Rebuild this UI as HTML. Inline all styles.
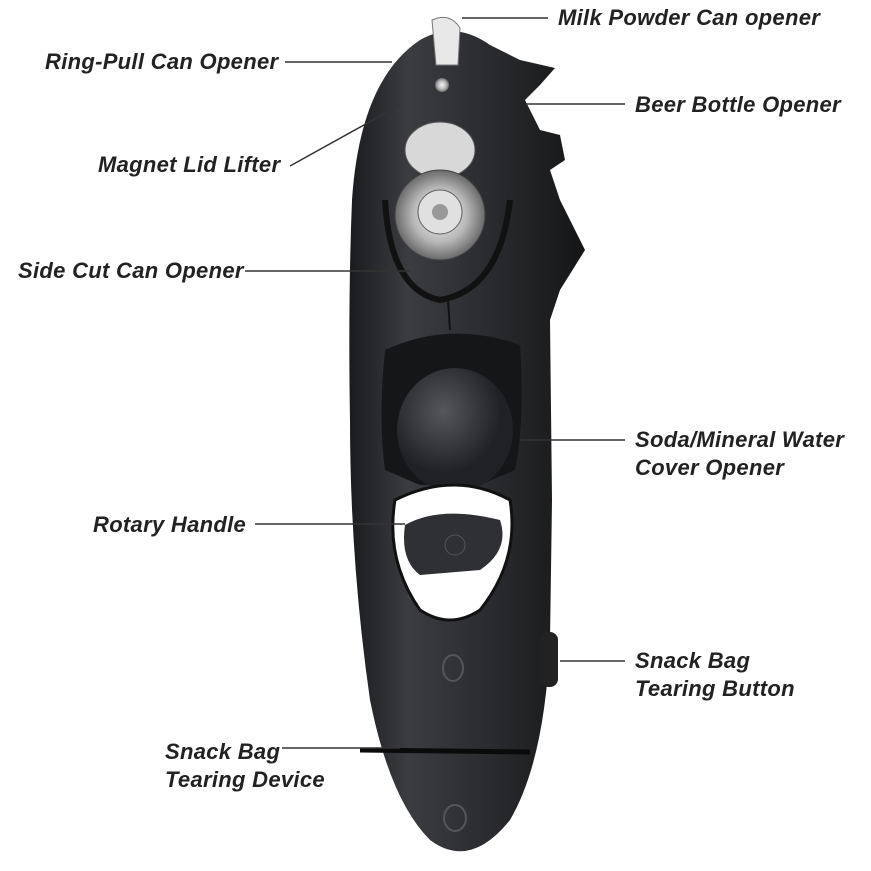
<!DOCTYPE html>
<html><head><meta charset="utf-8"><style>
html,body{margin:0;padding:0;background:#fff;width:871px;height:871px;overflow:hidden}
.t{position:absolute;font-family:"Liberation Sans",sans-serif;font-weight:bold;font-style:italic;font-size:22px;letter-spacing:0.3px;color:#222;line-height:28px;white-space:nowrap}
svg{position:absolute;left:0;top:0}
</style></head><body>
<svg width="871" height="871" viewBox="0 0 871 871">
<defs>
<linearGradient id="b" x1="0" x2="1"><stop offset="0" stop-color="#1a1b1d"/><stop offset="0.25" stop-color="#3a3c40"/><stop offset="0.6" stop-color="#2a2b2e"/><stop offset="1" stop-color="#141516"/></linearGradient>
<radialGradient id="m"><stop offset="0" stop-color="#f4f4f4"/><stop offset="0.6" stop-color="#b8b8b8"/><stop offset="1" stop-color="#6a6a6a"/></radialGradient>
<radialGradient id="ball" cx="0.4" cy="0.35"><stop offset="0" stop-color="#55575b"/><stop offset="1" stop-color="#202124"/></radialGradient>
</defs>
<path d="M420 40 Q455 20 490 45 L520 60 L555 68 L540 85 L525 100 L540 130 L560 135 L565 160 L550 170 L560 200 L585 250 L560 290 L550 320 L552 500 L550 640 Q545 760 510 820 Q470 870 430 840 Q390 800 370 700 Q350 560 350 420 Q348 300 352 200 Q360 80 420 40 Z" fill="url(#b)"/>
<path d="M432 20 Q450 12 460 28 L458 65 L436 65 Z" fill="#e8e8e8" stroke="#777"/>
<circle cx="442" cy="85" r="7" fill="url(#m)"/>
<ellipse cx="440" cy="150" rx="35" ry="28" fill="#d8d8d8" stroke="#555"/>
<path d="M385 200 Q390 290 440 300 Q500 290 510 200" fill="none" stroke="#111" stroke-width="6"/>
<circle cx="440" cy="215" r="45" fill="url(#m)" stroke="#444"/>
<circle cx="440" cy="212" r="22" fill="#e0e0e0" stroke="#666"/>
<circle cx="440" cy="212" r="8" fill="#999"/>
<line x1="448" y1="300" x2="450" y2="330" stroke="#111" stroke-width="2"/>
<path d="M385 350 Q450 320 520 345 Q525 420 515 470 L480 485 L420 485 L385 470 Q378 420 385 350 Z" fill="#151617"/>
<ellipse cx="455" cy="430" rx="58" ry="62" fill="url(#ball)"/>
<path d="M395 500 Q455 470 510 500 Q520 560 480 610 Q450 630 420 610 Q385 560 395 500 Z" fill="#fff" stroke="#111" stroke-width="3"/>
<path d="M405 525 Q440 505 500 520 Q510 550 480 570 L420 575 Q400 560 405 525 Z" fill="#2f3033"/>
<circle cx="455" cy="545" r="10" fill="none" stroke="#555"/>
<rect x="540" y="632" width="18" height="55" rx="8" fill="#222"/>
<ellipse cx="453" cy="668" rx="10" ry="13" fill="none" stroke="#555" stroke-width="2"/>
<line x1="360" y1="750" x2="530" y2="752" stroke="#0a0a0a" stroke-width="5"/>
<ellipse cx="455" cy="818" rx="11" ry="13" fill="none" stroke="#555" stroke-width="2"/>
<g stroke="#333" stroke-width="1.5">
<line x1="462" y1="18" x2="548" y2="18"/>
<line x1="285" y1="62" x2="392" y2="62"/>
<line x1="525" y1="104" x2="625" y2="104"/>
<line x1="290" y1="166" x2="400" y2="105"/>
<line x1="245" y1="271" x2="410" y2="271"/>
<line x1="520" y1="440" x2="625" y2="440"/>
<line x1="255" y1="524" x2="405" y2="524"/>
<line x1="560" y1="661" x2="625" y2="661"/>
<line x1="282" y1="748" x2="400" y2="748"/>
</g>
</svg>
<div class="t" style="left:558px;top:4px">Milk Powder Can opener</div>
<div class="t" style="left:45px;top:48px">Ring-Pull Can Opener</div>
<div class="t" style="left:635px;top:91px">Beer Bottle Opener</div>
<div class="t" style="left:98px;top:151px">Magnet Lid Lifter</div>
<div class="t" style="left:18px;top:257px">Side Cut Can Opener</div>
<div class="t" style="left:635px;top:426px">Soda/Mineral Water<br>Cover Opener</div>
<div class="t" style="left:93px;top:511px">Rotary Handle</div>
<div class="t" style="left:635px;top:647px">Snack Bag<br>Tearing Button</div>
<div class="t" style="left:165px;top:738px">Snack Bag<br>Tearing Device</div>
</body></html>
